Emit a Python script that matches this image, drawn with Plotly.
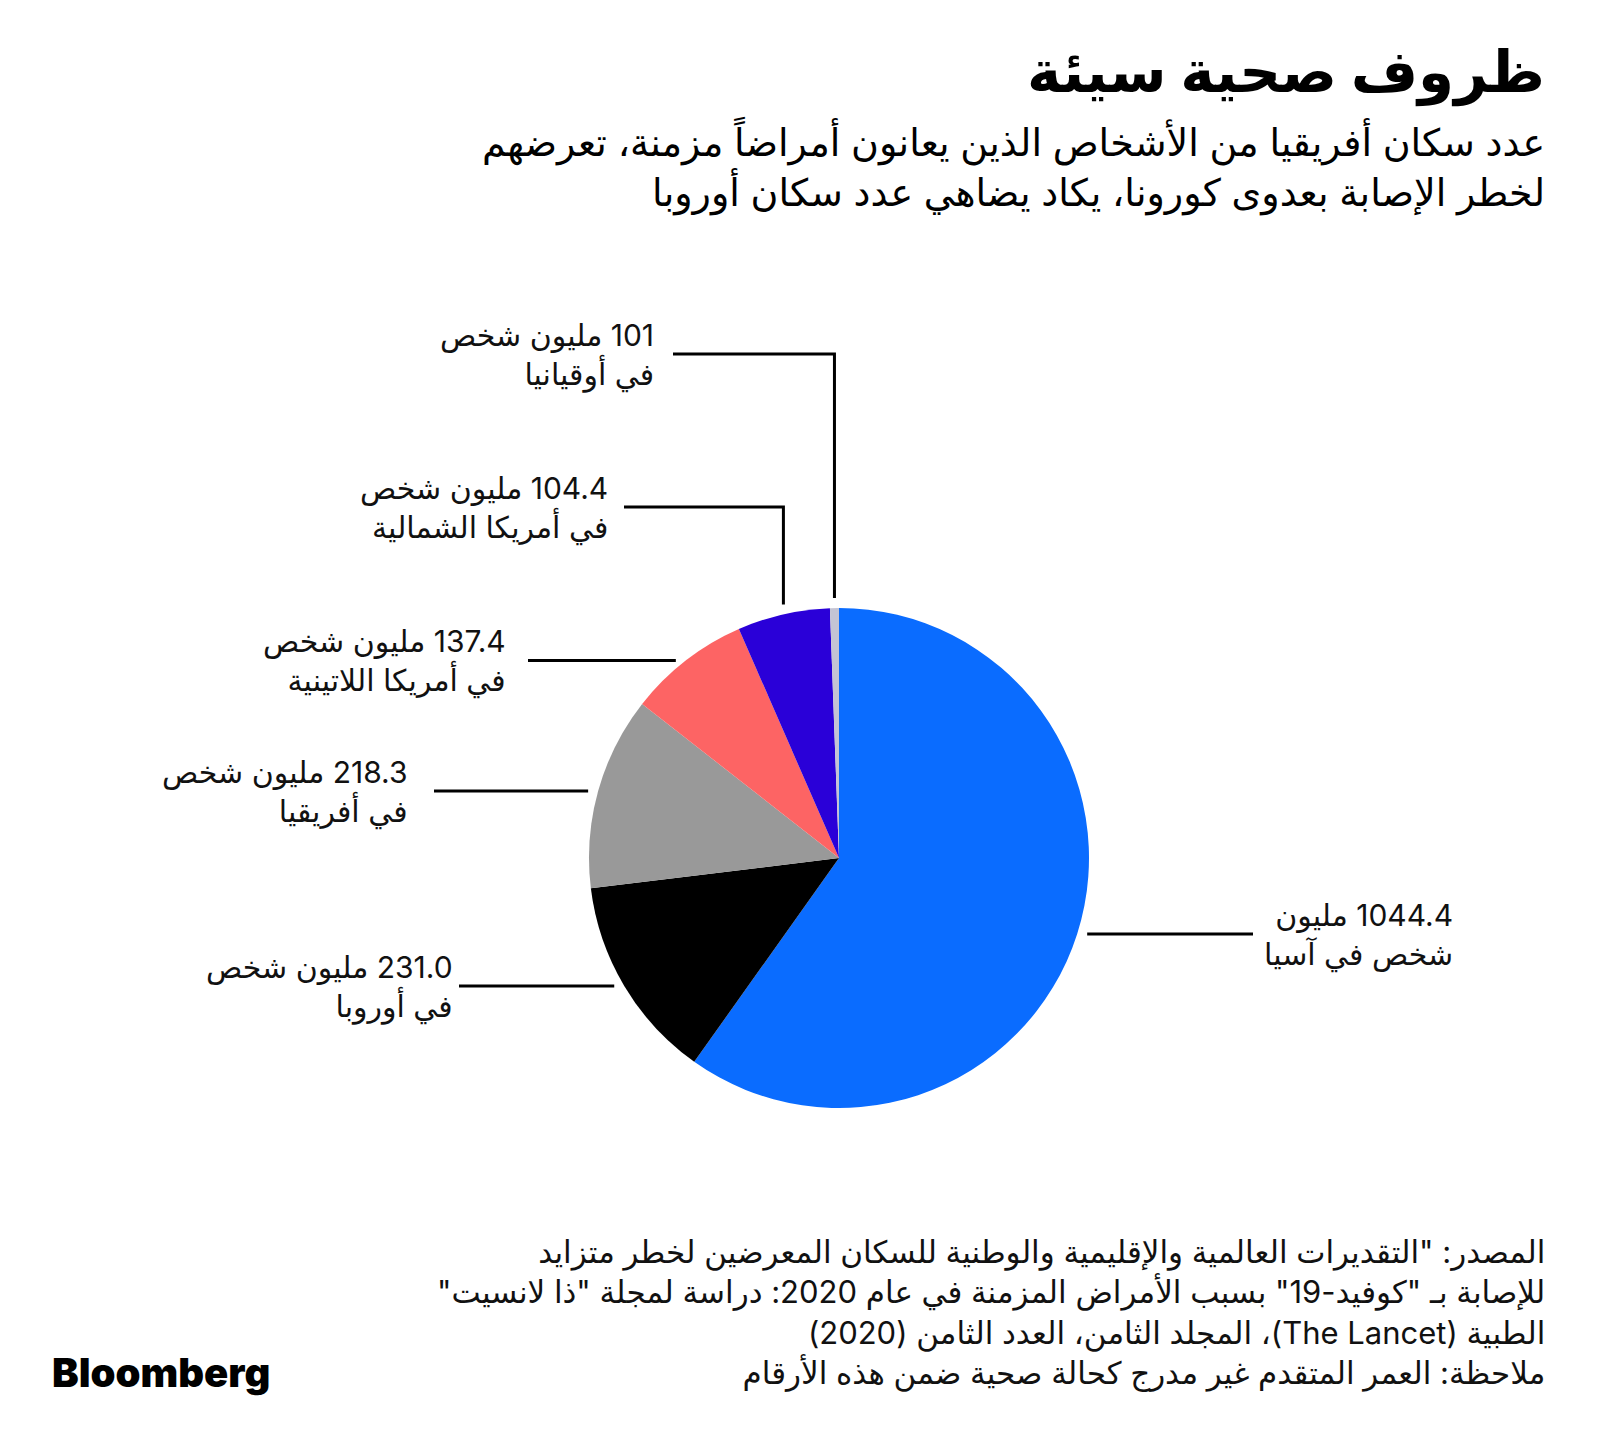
import math
import plotly.graph_objects as go

# ---- data ----
regions = ["آسيا", "أوروبا", "أفريقيا", "أمريكا اللاتينية", "أمريكا الشمالية", "أوقيانيا"]
values = [1044.4, 231.0, 218.3, 137.4, 104.4, 10.1]
label_texts = [
    "1044.4 مليون<br>شخص في آسيا",
    "231.0 مليون شخص<br>في أوروبا",
    "218.3 مليون شخص<br>في أفريقيا",
    "137.4 مليون شخص<br>في أمريكا اللاتينية",
    "104.4 مليون شخص<br>في أمريكا الشمالية",
    "101 مليون شخص<br>في أوقيانيا",
]
colors = ["#0a6cff", "#000000", "#999999", "#fd6464", "#2a00d8", "#c4c4d4"]

title = "ظروف صحية سيئة"
subtitle = "عدد سكان أفريقيا من الأشخاص الذين يعانون أمراضاً مزمنة، تعرضهم<br>لخطر الإصابة بعدوى كورونا، يكاد يضاهي عدد سكان أوروبا"
footer = ('المصدر: "التقديرات العالمية والإقليمية والوطنية للسكان المعرضين لخطر متزايد<br>'
          'للإصابة بـ "كوفيد-19" بسبب الأمراض المزمنة في عام 2020: دراسة لمجلة "ذا لانسيت"<br>'
          'الطبية (The Lancet)، المجلد الثامن، العدد الثامن (2020)<br>'
          'ملاحظة: العمر المتقدم غير مدرج كحالة صحية ضمن هذه الأرقام')


def rtl(s):
    return "<br>".join("\u202b" + line + "\u202c" for line in s.split("<br>"))


# ---- layout geometry (pixels) ----
W, H = 1600, 1450
CX, CY, R = 839, 858, 250
FONT = "Inter, DejaVu Sans, sans-serif"


def px(x):
    return x / W


def py(y):
    return 1 - y / H


fig = go.Figure()
fig.add_trace(go.Pie(
    labels=regions, values=values, sort=False, direction="clockwise", rotation=0,
    marker=dict(colors=colors, line=dict(width=0)), textinfo="none", hoverinfo="label+value",
    domain=dict(x=[px(CX - R), px(CX + R)], y=[py(CY + R), py(CY - R)]),
    showlegend=False,
))

# leader-line routing per slice
routes = [
    ("h", 1253, "left", 1262),
    ("h", 459, "right", 455),
    ("h", 434, "right", 409),
    ("h", 528, "right", 508),
    ("v", 507, 624, "right", 610),
    ("v", 354, 673, "right", 656),
]

total = sum(values)
cum = 0.0
shapes = []
annotations = []
GAP = 10
for v, txt, rt in zip(values, label_texts, routes):
    mid = (cum + v / 2) / total * 2 * math.pi
    cum += v
    sy = CY - (R + GAP) * math.cos(mid)
    ex = CX + R * math.sin(mid)
    ey = CY - R * math.cos(mid)
    if rt[0] == "h":
        endx = rt[1]
        x0 = ex + (GAP if endx > ex else -GAP)
        pts = [(x0, ey), (endx, ey)]
        ly = ey
        side, lx = rt[2], rt[3]
    else:
        top, endx = rt[1], rt[2]
        pts = [(ex, sy), (ex, top), (endx, top)]
        ly = top
        side, lx = rt[3], rt[4]
    path = "M " + " L ".join(f"{px(a)},{py(b)}" for a, b in pts)
    shapes.append(dict(type="path", path=path, xref="paper", yref="paper",
                       line=dict(color="#000000", width=3)))
    annotations.append(dict(
        text=rtl(txt), x=px(lx), y=py(ly + 1), xref="paper", yref="paper",
        xanchor="right" if side == "right" else "left", yanchor="middle",
        align="right", showarrow=False,
        font=dict(family=FONT, size=30, color="#111111"),
    ))

# title block
annotations.append(dict(text=f"<b>{rtl(title)}</b>", x=px(1547), y=py(71), xref="paper", yref="paper",
                        xanchor="right", yanchor="middle", align="right", showarrow=False,
                        font=dict(family=FONT, size=58, color="#000000")))
annotations.append(dict(text=rtl(subtitle), x=px(1547), y=py(166), xref="paper", yref="paper",
                        xanchor="right", yanchor="middle", align="right", showarrow=False,
                        font=dict(family=FONT, size=38, color="#000000")))
annotations.append(dict(text=rtl(footer), x=px(1547), y=py(1312), xref="paper", yref="paper",
                        xanchor="right", yanchor="middle", align="right", showarrow=False,
                        font=dict(family=FONT, size=31, color="#111111")))
annotations.append(dict(text="Bloomberg", x=px(50), y=py(1372), xref="paper", yref="paper",
                        xanchor="left", yanchor="middle", align="left", showarrow=False,
                        font=dict(family="Inter, Liberation Sans, sans-serif", size=40,
                                  color="#000000", weight=900)))

fig.update_layout(
    width=W, height=H, margin=dict(l=0, r=0, t=0, b=0),
    paper_bgcolor="#ffffff", plot_bgcolor="#ffffff",
    shapes=shapes, annotations=annotations,
)
fig.write_html("out.html")
